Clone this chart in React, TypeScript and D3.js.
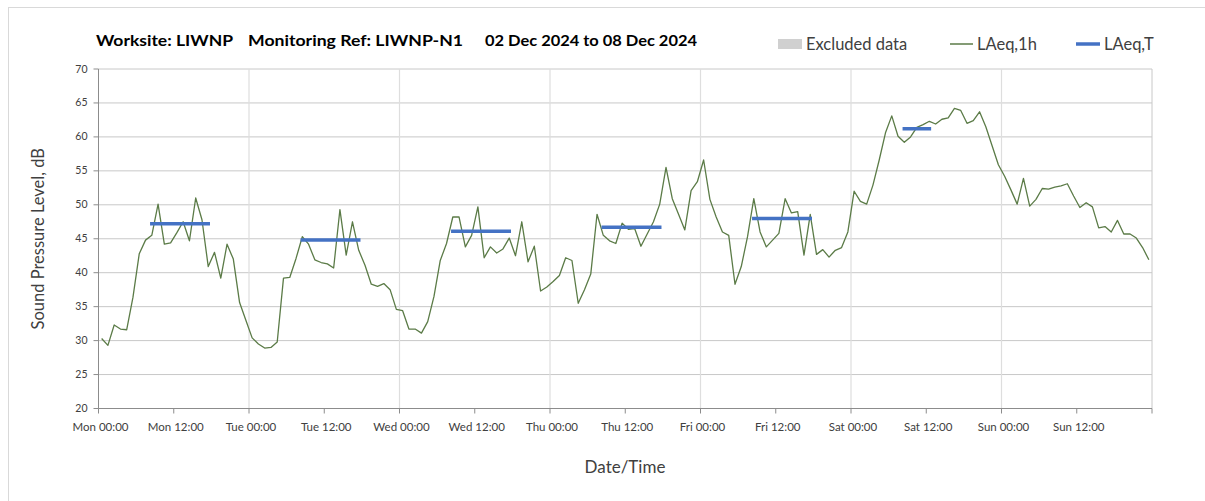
import * as d3 from 'd3';

// hourly LAeq,1h values, one array per day (00:00 .. 23:00)
const mon = [30.3, 29.3, 32.3, 31.7, 31.6, 36.4, 42.8, 44.8, 45.5, 50.1, 44.2, 44.4, 45.9, 47.5, 44.7, 51.0, 47.8, 40.9, 43.0, 39.2, 44.2, 42.0, 35.6, 33.0];
const tue = [30.4, 29.5, 28.9, 29.0, 29.8, 39.2, 39.3, 42.1, 45.3, 44.2, 41.9, 41.5, 41.3, 40.7, 49.3, 42.6, 47.5, 43.3, 41.1, 38.3, 38.0, 38.4, 37.5, 34.6];
const wed = [34.4, 31.7, 31.7, 31.1, 32.8, 36.5, 41.8, 44.3, 48.2, 48.2, 43.8, 45.5, 49.7, 42.2, 43.8, 42.9, 43.5, 45.1, 42.5, 47.5, 41.6, 43.9, 37.3, 37.9];
const thu = [38.7, 39.6, 42.2, 41.8, 35.5, 37.5, 39.8, 48.6, 45.5, 44.7, 44.3, 47.3, 46.4, 46.5, 43.9, 45.7, 47.5, 50.1, 55.5, 50.9, 48.6, 46.3, 52.1, 53.4];
const fri = [56.6, 50.8, 48.2, 46.0, 45.5, 38.3, 40.9, 45.3, 50.9, 46.0, 43.8, 44.8, 45.8, 50.9, 48.8, 49.0, 42.6, 48.6, 42.7, 43.4, 42.3, 43.3, 43.7, 46.0];
const sat = [52.0, 50.5, 50.1, 52.9, 56.6, 60.6, 63.1, 60.1, 59.2, 60.0, 61.4, 61.8, 62.3, 61.9, 62.6, 62.8, 64.2, 63.9, 62.0, 62.4, 63.7, 61.5, 58.7, 55.9];
const sun = [54.2, 52.2, 50.1, 53.9, 49.8, 50.8, 52.4, 52.3, 52.6, 52.8, 53.1, 51.3, 49.6, 50.3, 49.7, 46.6, 46.8, 46.0, 47.7, 45.7, 45.7, 45.1, 43.7, 41.9];

const dayNames = ['Mon', 'Tue', 'Wed', 'Thu', 'Fri', 'Sat', 'Sun'];

// LAeq,T periods: day index, first hour, last hour, level
const periodDay = [0, 1, 2, 3, 4, 5];
const periodFrom = [8, 8, 8, 8, 8, 8];
const periodTo = [17, 17, 17, 17, 17, 12];
const periodLevel = [47.2, 44.8, 46.1, 46.7, 48.0, 61.2];

const yTicks = [20, 25, 30, 35, 40, 45, 50, 55, 60, 65, 70];

const W = 1205;
const H = 501;
const FONT = 'Lato, "Open Sans", sans-serif';

export default function App() {
  const hourly = [mon, tue, wed, thu, fri, sat, sun].flat();
  const points = hourly.map((v, i) => ({ h: i + 0.5, v }));

  const x = d3.scaleLinear().domain([0, 168]).range([98.5, 1152]);
  const y = d3.scaleLinear().domain([20, 70]).range([408.5, 69]);

  const line = d3
    .line<{ h: number; v: number }>()
    .x((d) => x(d.h))
    .y((d) => y(d.v));

  const xTicks = d3.range(0, 169, 12);
  const dayLines = d3.range(24, 168, 24);

  return (
    <svg
      width={W}
      height={H}
      style={{ position: 'absolute', left: 0, top: 0, background: '#fff' }}
      fontFamily={FONT}
    >
      {/* chart border */}
      <rect x={8.5} y={7.5} width={W + 10} height={H + 10} fill="none" stroke="#d9d9d9" />

      {/* title */}
      <g fontWeight="bold" fontSize={16} fill="#000" lengthAdjust="spacingAndGlyphs">
        <text x={96} y={46} textLength={137} lengthAdjust="spacingAndGlyphs">Worksite: LIWNP</text>
        <text x={248} y={46} textLength={215} lengthAdjust="spacingAndGlyphs">Monitoring Ref: LIWNP-N1</text>
        <text x={485} y={46} textLength={212} lengthAdjust="spacingAndGlyphs">02 Dec 2024 to 08 Dec 2024</text>
      </g>

      {/* legend */}
      <g fontSize={16.5} fill="#404040">
        <rect x={778} y={39} width={24} height={10} fill="#d0d0d0" />
        <text x={806} y={50}>Excluded data</text>
        <line x1={950} x2={973} y1={44} y2={44} stroke="#5b7b47" strokeWidth={1.5} />
        <text x={977} y={50}>LAeq,1h</text>
        <line x1={1076} x2={1100} y1={44} y2={44} stroke="#4472c4" strokeWidth={3.5} />
        <text x={1104} y={50}>LAeq,T</text>
      </g>

      {/* horizontal grid */}
      {yTicks.map((t) => (
        <line key={t} x1={x(0)} x2={x(168)} y1={y(t)} y2={y(t)} stroke="#c8c8c8" strokeWidth={1} />
      ))}
      {/* day separators */}
      {dayLines.map((h) => (
        <line key={h} x1={x(h)} x2={x(h)} y1={y(70)} y2={y(20)} stroke="#dedede" strokeWidth={1.2} />
      ))}
      <line x1={x(168)} x2={x(168)} y1={y(70)} y2={y(20)} stroke="#c8c8c8" />

      {/* axes */}
      <line x1={x(0)} x2={x(0)} y1={y(70)} y2={y(20)} stroke="#8c8c8c" />
      <line x1={x(0)} x2={x(168)} y1={y(20)} y2={y(20)} stroke="#8c8c8c" />
      {yTicks.map((t) => (
        <g key={t}>
          <line x1={x(0) - 5} x2={x(0)} y1={y(t)} y2={y(t)} stroke="#8c8c8c" />
          <text x={x(0) - 11} y={y(t) + 3.5} textAnchor="end" fontSize={10.5} fill="#404040">
            {t}
          </text>
        </g>
      ))}
      {xTicks.map((h) => (
        <g key={h}>
          <line x1={x(h)} x2={x(h)} y1={y(20)} y2={y(20) + 5} stroke="#8c8c8c" />
          {h < 168 && (
            <text x={x(h) + 2} y={431} textAnchor="middle" fontSize={11.5} fill="#404040">
              {`${dayNames[Math.floor(h / 24)]} ${h % 24 === 0 ? '00' : '12'}:00`}
            </text>
          )}
        </g>
      ))}

      {/* axis titles */}
      <text x={625} y={473} textAnchor="middle" fontSize={17} fill="#404040">
        Date/Time
      </text>
      <text
        transform={`translate(44,${(y(70) + y(20)) / 2}) rotate(-90)`}
        textAnchor="middle"
        fontSize={16.5}
        fill="#404040"
      >
        Sound Pressure Level, dB
      </text>

      {/* LAeq,1h */}
      <path d={line(points) ?? ''} fill="none" stroke="#5b7b47" strokeWidth={1.3} strokeLinejoin="round" />

      {/* LAeq,T */}
      {periodDay.map((d, i) => (
        <line
          key={i}
          x1={x(d * 24 + periodFrom[i] + 0.5)}
          x2={x(d * 24 + periodTo[i] + 0.5)}
          y1={y(periodLevel[i])}
          y2={y(periodLevel[i])}
          stroke="#4472c4"
          strokeWidth={3.5}
          strokeLinecap="square"
        />
      ))}
    </svg>
  );
}
